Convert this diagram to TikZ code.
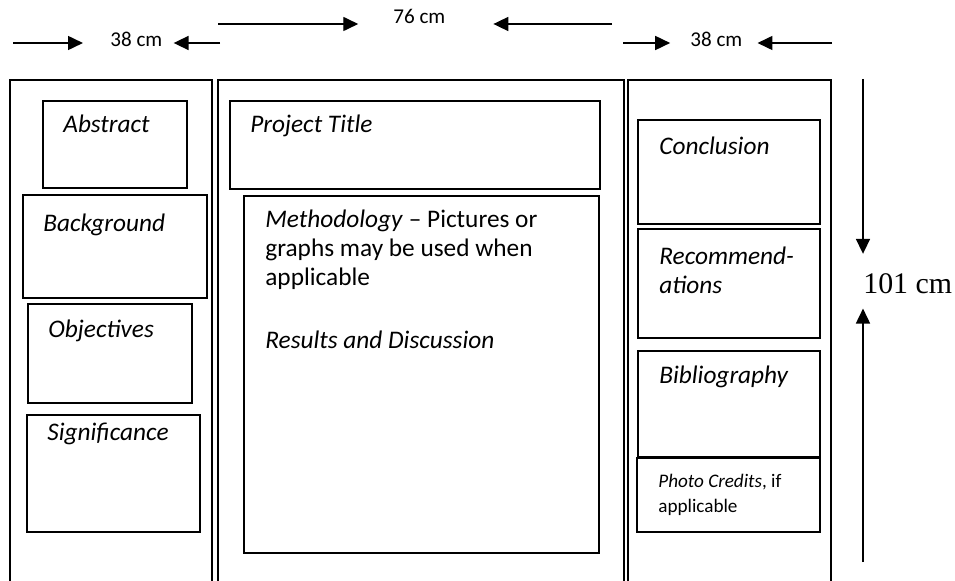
\documentclass[tikz,border=0pt]{standalone}
\usepackage{fontspec}
\setmainfont{Carlito}
\newfontfamily\fuenteSerif{Liberation Serif}
\usetikzlibrary{arrows.meta, positioning, fit, calc}
\tikzset{
  panel/.style={draw, line width=0.9pt, inner sep=0pt},
  caja/.style={draw, line width=0.9pt, inner sep=0pt},
  texto/.style={anchor=base west, inner sep=0pt, align=left,
    font=\fontsize{14.4}{16.5}\selectfont},
  textoChico/.style={texto, font=\fontsize{10.9}{14.2}\selectfont},
  medida/.style={anchor=base west, inner sep=0pt,
    font=\fontsize{12}{14}\selectfont},
  medidaAlto/.style={anchor=base west, inner sep=0pt,
    font=\fuenteSerif\fontsize{17}{20}\selectfont},
  flecha/.style={-{Triangle[length=8.5pt, width=8pt]}, line width=0.8pt},
}

\begin{document}
\begin{tikzpicture}[x=0.2mm, y=-0.2mm]
  \useasboundingbox (0,0) rectangle (955,581);

  % Paneles
  \node[panel, fit={(10,80) (212,600)}] (panelIzq) {};
  \node[panel, fit={(218,80) (624,600)}] (panelCentro) {};
  \node[panel, fit={(628,80) (831,600)}] (panelDer) {};

  % Columna izquierda
  \node[caja, fit={(43,101) (187,188)}] (abstract) {};
  \node[caja, fit={(23,195) (207,298)}] (background) {};
  \node[caja, fit={(28,304) (192,403)}] (objectives) {};
  \node[caja, fit={(27,415) (200,532)}] (significance) {};
  \node[texto] (tAbstract) at (63,133) {\itshape Abstract};
  \node[texto] (tBackground) at (43,231) {\itshape Background};
  \node[texto] (tObjectives) at (48,337) {\itshape Objectives};
  \node[texto] (tSignificance) at (47,440) {\itshape Significance};

  % Columna central (base = ultima linea)
  \node[caja, fit={(230,101) (600,189)}] (titulo) {};
  \node[caja, fit={(244,196) (599,553)}] (metodo) {};
  \node[texto] (tTitulo) at (250,133) {\itshape Project Title};
  \node[texto] (tMetodo) at (265,348) {\textit{Methodology} -- Pictures or\\
    graphs may be used when\\applicable\\[19pt]\textit{Results and Discussion}};

  % Columna derecha
  \node[caja, fit={(638,120) (820,224)}] (conclusion) {};
  \node[caja, fit={(638,229) (820,338)}] (recomend) {};
  \node[caja, fit={(638,351) (820,457)}] (biblio) {};
  \node[caja, fit={(637,458) (820,532)}] (creditos) {};
  \node[texto] (tConclusion) at (659,154) {\itshape Conclusion};
  \node[texto] (tRecomend) at (659,293) {\itshape Recommend-\\\itshape ations};
  \node[texto] (tBiblio) at (659,383) {\itshape Bibliography};
  \node[textoChico] (tCreditos) at (658,512) {\textit{Photo Credits}, if\\applicable};

  % Medidas
  \node[medida] (cm38izq) at (110,47) {38 cm};
  \node[medida] (cm76) at (393,24) {76 cm};
  \node[medida] (cm38der) at (690,47) {38 cm};
  \node[medidaAlto] (cm101) at (863,293) {101 cm};

  \coordinate (f1) at (13,43);
  \coordinate (f2) at (220,43);
  \coordinate (f3) at (218,24);
  \coordinate (f4) at (612,24);
  \coordinate (f5) at (623,43);
  \coordinate (f6) at (832,43);
  \coordinate (f7) at (863,79);
  \coordinate (f8) at (863,562);

  \draw[flecha, shorten >=15.4pt] (f1) -- (f1 -| cm38izq.west);
  \draw[flecha, shorten >=6.3pt] (f2) -- (f2 -| cm38izq.east);
  \draw[flecha, shorten >=19.8pt] (f3) -- (f3 -| cm76.west);
  \draw[flecha, shorten >=27.2pt] (f4) -- (f4 -| cm76.east);
  \draw[flecha, shorten >=11.3pt] (f5) -- (f5 -| cm38der.west);
  \draw[flecha, shorten >=8.5pt] (f6) -- (f6 -| cm38der.east);
  \draw[flecha, shorten >=10.8pt] (f7) -- (f7 |- cm101.north);
  \draw[flecha, shorten >=8.5pt] (f8) -- (f8 |- cm101.south);
\end{tikzpicture}
\end{document}
